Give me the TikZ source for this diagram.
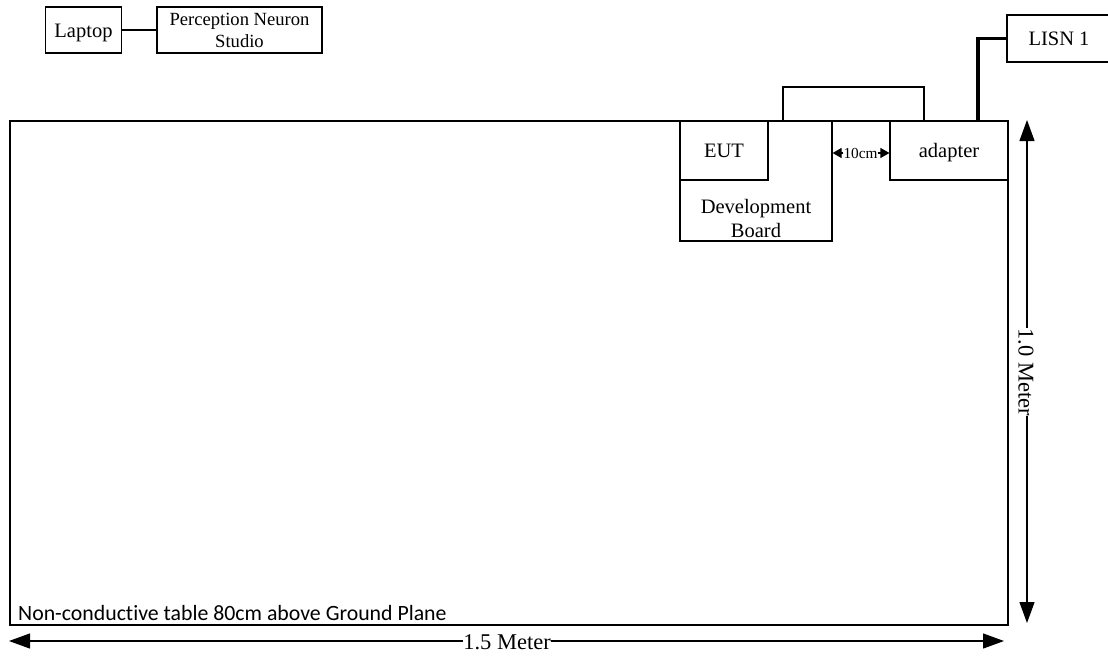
\documentclass[tikz,border=0pt]{standalone}
\usepackage{fontspec}
\setmainfont{Liberation Serif}
\newfontfamily\calfont[Ligatures=NoCommon]{Carlito}
\usetikzlibrary{arrows.meta}
\tikzset{
  x=1pt,y=-1pt,
  boxn/.style={draw=black,line width=1.2pt,inner sep=0pt,align=center,font=\fontsize{20.5}{24}\selectfont},
  wire/.style={draw=black,line width=1.2pt},
  thickwire/.style={draw=black,line width=3.2pt},
  dimarrow/.style={draw=black,line width=1.2pt,-{Triangle[length=21pt,width=15pt]}},
  smalldim/.style={draw=black,line width=1.2pt,-{Triangle[length=9pt,width=10pt]}},
  dimtext/.style={inner sep=0.5pt,font=\fontsize{22.5}{24}\selectfont}
}
\begin{document}
\begin{tikzpicture}
\useasboundingbox (0,0) rectangle (1108,656);
\clip (0,0) rectangle (1108,656);
% table
\node[boxn,minimum width=998pt,minimum height=504pt] (tbl) at (509,373) {};
\node[anchor=base west,inner sep=0pt,font=\calfont\fontsize{21.8}{24}\selectfont] (tlabel) at (18,620.5) {Non-conductive table 80cm above Ground Plane};
% top-left
\node[boxn,minimum width=76pt,minimum height=46pt,text height=15.5pt,text depth=0pt] (lap) at (83.5,30) {Laptop};
\node[boxn,minimum width=165pt,minimum height=46pt,font=\fontsize{18.6}{22}\selectfont] (pn) at (239.5,30) {Perception Neuron\\Studio};
\draw[wire] (lap) -- (pn);
% board
\node[boxn,minimum width=152pt,minimum height=120pt] (dev) at (756,181) {};
\node[inner sep=0pt,align=center,font=\fontsize{20.5}{24}\selectfont] (devt) at (756,218) {Development\\Board};
\node[boxn,minimum width=88pt,minimum height=59pt] (eut) at (724,150.5) {EUT};
\node[boxn,minimum width=118pt,minimum height=59pt,text height=13.5pt,text depth=0.5pt] (ada) at (949,150.5) {adapter};
\node[boxn,minimum width=110pt,minimum height=47pt] (lisn) at (1062,38.5) {};
\node[inner sep=0pt,font=\fontsize{20.5}{24}\selectfont] (lisnt) at (1059,38.5) {LISN 1};
% bridge and supply wire
\coordinate (b1) at (783,121);
\coordinate (b2) at (924,121);
\coordinate (w1) at (978,121);
\draw[wire] (b1) -- (783,87) -- (924,87) -- (b2);
\draw[thickwire] (w1) -- (w1 |- lisn.west) -- (lisn.west);
% 10cm
\node[inner sep=0pt,font=\fontsize{15.3}{18}\selectfont] (ten) at (860.5,153) {10cm};
\draw[smalldim] (ten.west) -- (dev.east |- ten.west);
\draw[smalldim] (ten.east) -- (ada.west |- ten.east);
% dimension lines
\node[dimtext] (ml) at (507,642) {1.5 Meter};
\coordinate (h1) at (9,641);
\coordinate (h2) at (1004,641);
\draw[dimarrow] (ml.west |- h1) -- (h1);
\draw[dimarrow] (ml.east |- h2) -- (h2);
\node[dimtext,rotate=-90] (mv) at (1026,372) {1.0 Meter};
\coordinate (v1) at (1027,120);
\coordinate (v2) at (1027,623);
\draw[dimarrow] (v1 |- mv.west) -- (v1);
\draw[dimarrow] (v2 |- mv.east) -- (v2);
\end{tikzpicture}
\end{document}
